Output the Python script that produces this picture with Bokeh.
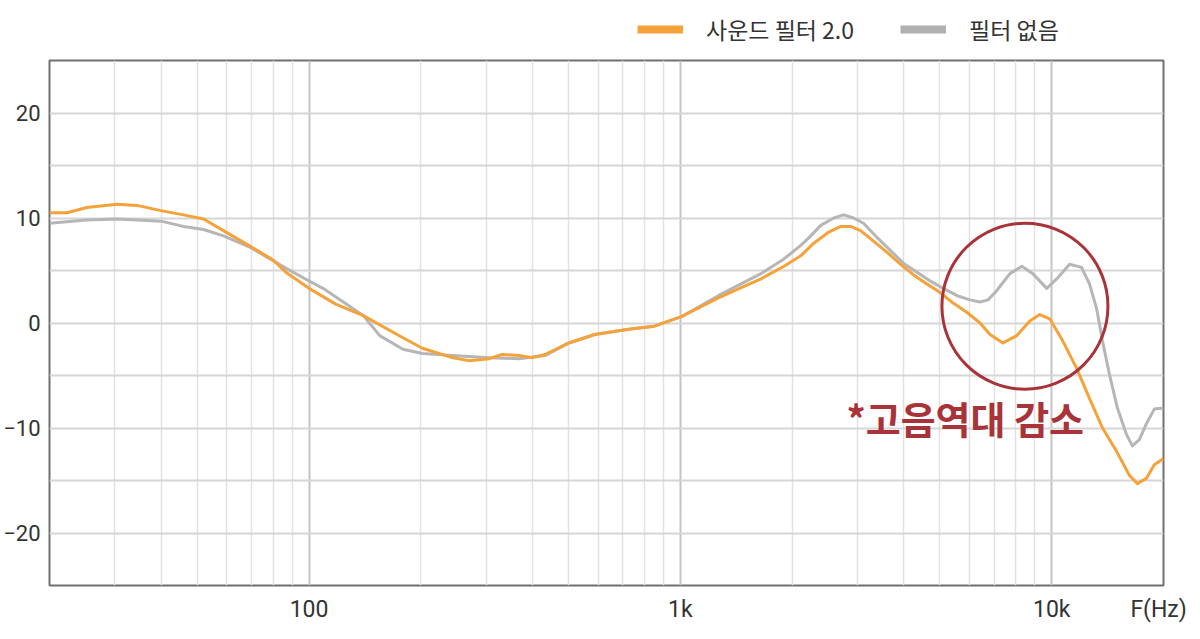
from bokeh.plotting import figure
from bokeh.layouts import column
from bokeh.models import FixedTicker, Legend, LegendItem
from bokeh.core.properties import value
from bokeh.embed import file_html
from bokeh.resources import INLINE

# ---- data ----
freq_filter = [20, 22.3, 25.2, 30.4, 34.4, 39.9, 45.9, 52, 58.8, 69.5,
               80, 86.8, 100, 118, 140, 179, 202, 243, 270, 306,
               331, 368, 399, 432, 501, 588, 725, 851, 1006, 1265,
               1648, 1901, 2110, 2287, 2494, 2702, 2873, 3057, 3312, 3612,
               3912, 4240, 4622, 5008, 5427, 5918, 6412, 6821, 7390, 8057,
               8730, 9286, 9877, 10703, 11667, 12645, 13701, 14936, 16183, 17010,
               17980, 18890, 20000]
db_filter = [10.5, 10.5, 11.0, 11.3, 11.2, 10.7, 10.3, 9.9, 8.8, 7.3,
             6.0, 4.8, 3.3, 1.8, 0.7, -1.4, -2.4, -3.3, -3.6, -3.4,
             -3.0, -3.1, -3.3, -3.0, -1.9, -1.1, -0.6, -0.3, 0.6, 2.4,
             4.2, 5.4, 6.4, 7.6, 8.6, 9.2, 9.2, 8.8, 7.8, 6.7,
             5.6, 4.6, 3.7, 2.9, 1.9, 1.0, 0.0, -1.1, -1.9, -1.2,
             0.2, 0.8, 0.4, -1.7, -4.3, -7.2, -10.0, -12.2, -14.5, -15.3,
             -14.8, -13.5, -12.9]

freq_none = [20, 25.2, 30.4, 39.9, 45.9, 52, 58.8, 69.5, 86.8, 100,
             109, 126, 140, 155, 179, 202, 243, 306, 368, 432,
             501, 588, 725, 851, 1006, 1265, 1648, 1901, 2110, 2245,
             2388, 2587, 2753, 2927, 3114, 3395, 3680, 3985, 4345, 4708,
             5102, 5563, 6029, 6412, 6737, 7122, 7260, 7716, 8311, 8895,
             9696, 10313, 11176, 12033, 12645, 13203, 13701, 14305, 15029, 15887,
             16487, 17221, 17980, 18890, 20000]
db_none = [9.5, 9.8, 9.9, 9.7, 9.2, 8.9, 8.3, 7.2, 5.2, 4.0,
           3.3, 1.8, 0.7, -1.2, -2.5, -2.9, -3.1, -3.3, -3.4, -3.1,
           -1.9, -1.1, -0.6, -0.3, 0.6, 2.6, 4.7, 6.1, 7.4, 8.3,
           9.3, 10.0, 10.3, 10.0, 9.5, 8.1, 6.9, 5.7, 4.8, 4.0,
           3.3, 2.6, 2.2, 2.0, 2.2, 3.1, 3.5, 4.7, 5.4, 4.7,
           3.3, 4.2, 5.6, 5.3, 3.7, 1.4, -1.7, -4.9, -8.1, -10.6,
           -11.7, -11.1, -9.6, -8.2, -8.1]

series_names = ["사운드 필터 2.0", "필터 없음"]
x_major_ticks = [100, 1000, 10000]
x_major_labels = ["100", "1k", "10k"]
x_unit_tick = 19400
x_unit_label = "F(Hz)"
x_minor_ticks = [20, 30, 40, 50, 60, 70, 80, 90,
                 200, 300, 400, 500, 600, 700, 800, 900,
                 2000, 3000, 4000, 5000, 6000, 7000, 8000, 9000]
y_ticks = [-20, -10, 0, 10, 20]
y_labels = ["\u221220", "\u221210", "0", "10", "20"]
y_grid = [-20, -15, -10, -5, 0, 5, 10, 15, 20]

annotation_text = "*고음역대 감소"
annot_circle_f = [8470]
annot_circle_db = [1.6]
annot_text_f = [5850]
annot_text_db = [-9.0]

ORANGE = "#F5A23A"
GRAY = "#B6B6B6"
RED = "#A8343A"
FONT = "Roboto"
KFONT = "Noto Sans CJK KR"
W = 1192

# ---------- legend strip (top) ----------
leg = figure(width=W, height=58, x_axis_type="log",
             x_range=(20, 20000), y_range=(1000, 1001),
             output_backend="svg", toolbar_location=None,
             x_axis_location=None, y_axis_location=None,
             min_border=0)
leg.outline_line_color = None
leg.grid.visible = False
leg.background_fill_color = "white"
leg.border_fill_color = "white"
# same series, drawn out of view: only their legend swatches show
sw1 = leg.line(freq_filter, db_filter, line_color=ORANGE, line_width=8)
sw2 = leg.line(freq_none, db_none, line_color="#B0B0B0", line_width=8)
legend = Legend(items=[LegendItem(label=series_names[0], renderers=[sw1]),
                       LegendItem(label=series_names[1], renderers=[sw2])],
                orientation="horizontal", location=(588, 12),
                glyph_width=46, glyph_height=20, label_standoff=23, spacing=46,
                padding=0, margin=0, border_line_color=None,
                background_fill_alpha=0,
                label_text_font=KFONT, label_text_font_size="23px",
                label_text_color="#333333")
leg.add_layout(legend, "center")

# ---------- main chart ----------
p = figure(width=W, height=577, x_axis_type="log",
           x_range=(20, 20000), y_range=(-25, 25),
           output_backend="svg", toolbar_location=None,
           min_border_left=47, min_border_right=29,
           min_border_top=2, min_border_bottom=50)

p.background_fill_color = "white"
p.border_fill_color = "white"
p.outline_line_color = "#707070"
p.outline_line_width = 2

# axes
p.xaxis.ticker = FixedTicker(ticks=x_major_ticks + [x_unit_tick])
overrides_x = {t: l for t, l in zip(x_major_ticks, x_major_labels)}
overrides_x[x_unit_tick] = x_unit_label
p.xaxis.major_label_overrides = overrides_x
p.yaxis.ticker = FixedTicker(ticks=y_ticks)
p.yaxis.major_label_overrides = {t: l for t, l in zip(y_ticks, y_labels)}
for ax in (p.xaxis, p.yaxis):
    ax.axis_line_color = None
    ax.major_tick_line_color = None
    ax.minor_tick_line_color = None
    ax.major_label_text_font = FONT
    ax.major_label_text_color = "#333333"
p.xaxis.major_label_text_font_size = "23px"
p.yaxis.major_label_text_font_size = "22px"
p.xaxis.major_label_standoff = 4
p.yaxis.major_label_standoff = 3

# grids
p.xgrid.ticker = FixedTicker(ticks=x_major_ticks, minor_ticks=x_minor_ticks)
p.xgrid.grid_line_color = "#C4C4C4"
p.xgrid.grid_line_width = 2
p.xgrid.minor_grid_line_color = "#E2E2E2"
p.xgrid.minor_grid_line_width = 1.5
p.ygrid.ticker = FixedTicker(ticks=y_grid)
p.ygrid.grid_line_color = "#D6D6D6"
p.ygrid.grid_line_width = 2

# curves
p.line(freq_none, db_none, line_color=GRAY, line_width=3, line_join="round")
p.line(freq_filter, db_filter, line_color=ORANGE, line_width=3, line_join="round")

# annotation circle and text
p.scatter(annot_circle_f, annot_circle_db, marker="circle", size=166,
          fill_alpha=0, line_color=RED, line_width=3)
p.text(annot_text_f, annot_text_db, text=[annotation_text],
       text_font=value(KFONT), text_font_size="38px", text_font_style="bold",
       text_color=RED, text_align="center", text_baseline="middle")

layout = column(leg, p, spacing=0)
open("out.html", "w").write(file_html(layout, INLINE))
